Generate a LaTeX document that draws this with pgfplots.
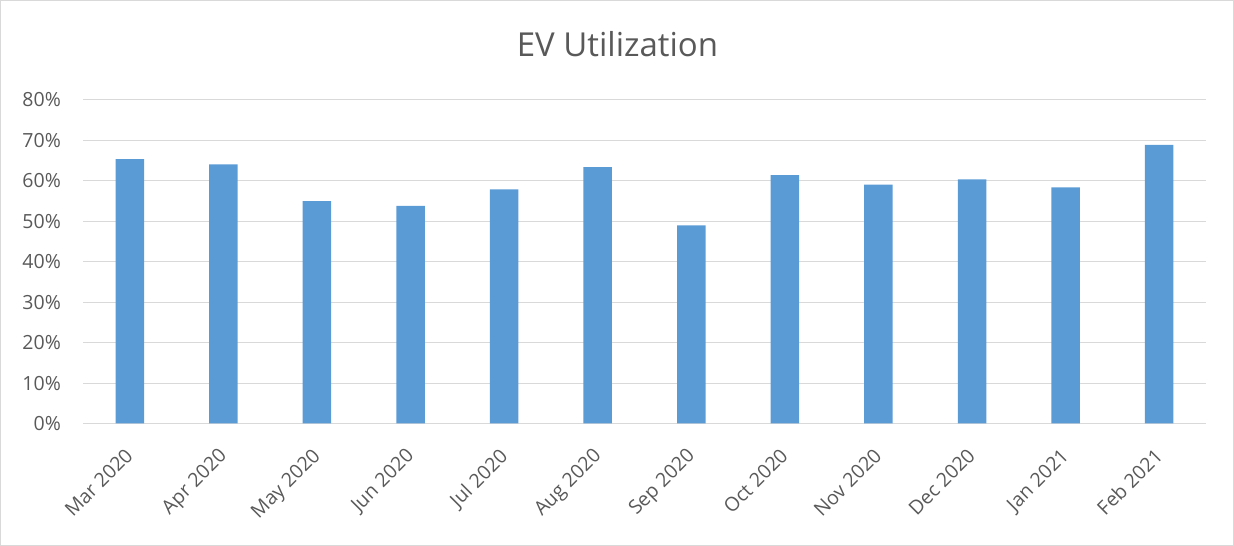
\documentclass[border=0pt]{standalone}
\usepackage{pgfplots}
\pgfplotsset{compat=1.18}
\usepackage{fontspec}
\setmainfont{Open Sans}
\definecolor{barblue}{HTML}{5B9BD5}
\definecolor{gridgray}{HTML}{D9D9D9}
\definecolor{txtgray}{HTML}{595959}
\begin{document}
\begin{tikzpicture}[x=1pt,y=1pt]
\draw[gridgray,line width=1pt] (0.5,0.5) rectangle (1233.5,545.5);
\begin{axis}[
  at={(83pt,122.5pt)}, anchor=south west,
  scale only axis, width=1123pt, height=323.5pt,
  ymin=0, ymax=0.8, ytick={0,0.1,...,0.8},
  yticklabel={\pgfmathparse{\tick*100}\pgfmathprintnumber[fixed,precision=0]{\pgfmathresult}\%},
  /pgf/number format/assume math mode=true,
  xmin=-0.5, xmax=11.5, xtick=data,
  xticklabels={Mar 2020,Apr 2020,May 2020,Jun 2020,Jul 2020,Aug 2020,Sep 2020,Oct 2020,Nov 2020,Dec 2020,Jan 2021,Feb 2021},
  xticklabel style={rotate=45, anchor=north east, font=\fontsize{19.5}{22}\selectfont, text=txtgray, inner sep=0pt, xshift=-20.6pt, yshift=-12.4pt},
  yticklabel style={font=\fontsize{19.5}{22}\selectfont, text=txtgray, inner sep=0pt, xshift=-22pt, anchor=east},
  ymajorgrids, grid style={gridgray, line width=1pt},
  axis lines*=left,
  y axis line style={draw=none},
  x axis line style={draw=gridgray, line width=1pt, -},
  major tick length=0pt,
  tick style={draw=none},
  title={EV Utilization},
  title style={font=\fontsize{33}{38}\selectfont, text=txtgray, at={(0.5,1)}, anchor=center, xshift=-27pt, yshift=50pt},
  ybar, bar width=28.5pt,
  clip=false,
]
\addplot[fill=barblue, draw=none] coordinates {
(0,0.654) (1,0.641) (2,0.550) (3,0.538) (4,0.579) (5,0.634)
(6,0.490) (7,0.614) (8,0.591) (9,0.604) (10,0.584) (11,0.689)
};
\end{axis}
\end{tikzpicture}
\end{document}
